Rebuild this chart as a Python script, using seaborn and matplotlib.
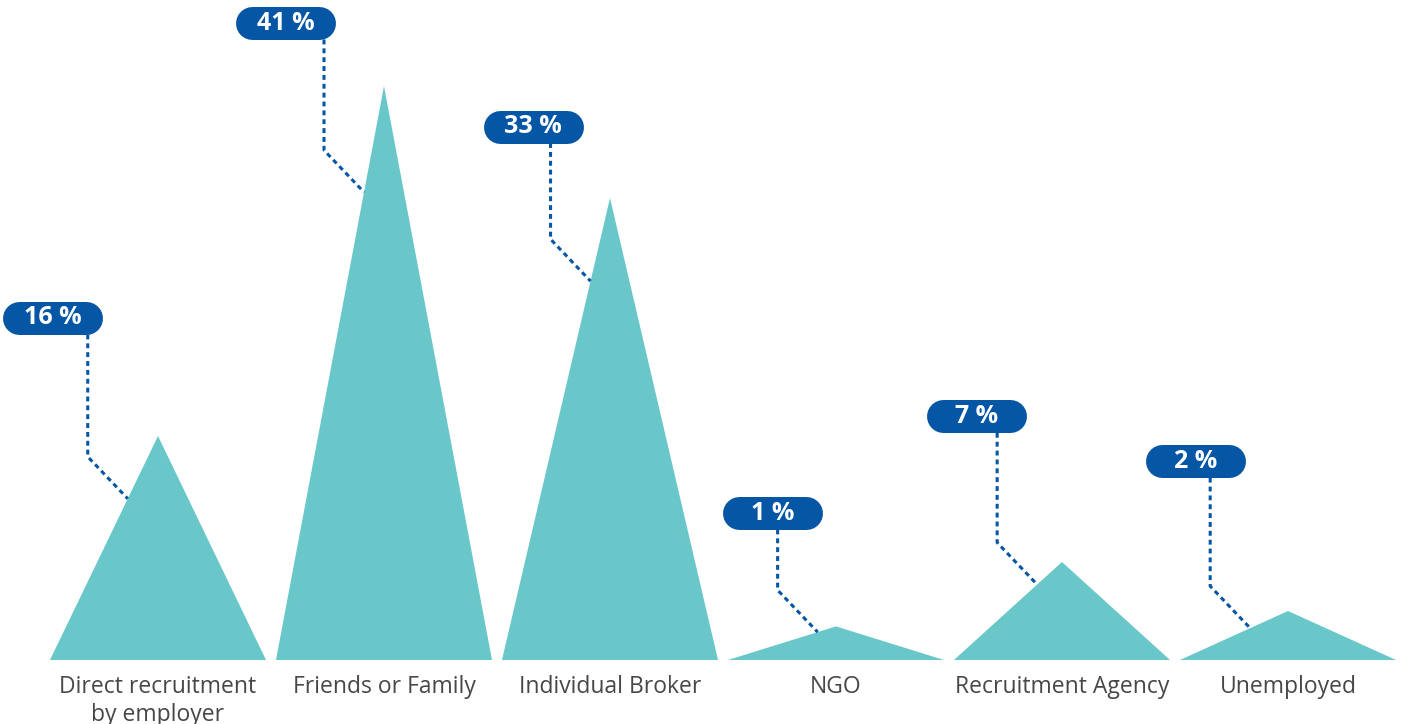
import matplotlib.pyplot as plt
import seaborn as sns

# Data
categories = ["Direct recruitment\nby employer", "Friends or Family", "Individual Broker",
              "NGO", "Recruitment Agency", "Unemployed"]
shares = [16, 41, 33, 1, 7, 2]                     # printed labels (%)
peak_heights = [16, 41, 33, 2.4, 7, 3.5]           # drawn peak heights (small ones exaggerated)

# Layout for the callouts (data units)
pill_dx = [-0.465, -0.434, -0.34, -0.279, -0.38, -0.41]
pill_y = [24.43, 45.5, 38.1, 10.5, 17.4, 14.2]
end_frac = [0.72, 0.815, 0.82, 0.83, 0.77, 0.65]   # where the leader hits the left slope

teal = "#69c7ca"
blue = "#0556a5"
half_w = 0.478

sns.set_style("white")
plt.rcParams['font.family'] = ['Open Sans', 'DejaVu Sans']

fig = plt.figure(figsize=(14.05, 7.24), dpi=100)
ax = fig.add_axes([0, 0, 1, 1])
ax.set_xlim(-158 / 226, (1405 - 158) / 226)
ax.set_ylim(-64 / 14, 660 / 14)
ax.axis("off")

dx_elbow = 40 / 226
dy_elbow = 42 / 14
pill_half = 33.5 / 226          # straight part of the pill, half length
pill_lw = 33 * 72 / 100         # pill height in points

for i, (cat, val, h) in enumerate(zip(categories, shares, peak_heights)):
    ax.fill([i - half_w, i, i + half_w], [0, h, 0], color=teal, lw=0)
    ax.text(i, -1.05, cat, ha="center", va="top", fontsize=16.5, color="#474747",
            linespacing=1.22)

    # leader line
    ex = i - half_w + end_frac[i] * half_w
    ey = h * end_frac[i]
    elx = ex - dx_elbow
    ely = ey + dy_elbow
    px = i + pill_dx[i]
    py = pill_y[i]
    ax.plot([elx, elx, ex], [py - 16.5 / 14, ely, ey], color=blue, lw=2.2,
            linestyle=(0, (1.6, 1.3)), solid_capstyle="butt")

    # pill label (thick line with round caps)
    ax.plot([px - pill_half, px + pill_half], [py, py], color=blue, lw=pill_lw,
            solid_capstyle="round", zorder=3)
    ax.text(px, py, f"{val} %", ha="center", va="center", color="white",
            fontsize=18, fontweight="bold", zorder=4)

fig.savefig("out.png", dpi=100)
